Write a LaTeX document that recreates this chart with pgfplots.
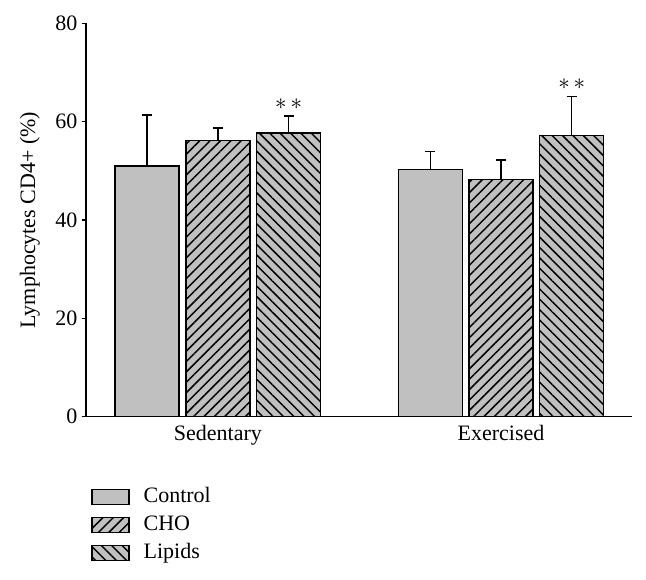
\documentclass[border=0pt]{standalone}
\usepackage{pgfplots}
\pgfplotsset{compat=1.18}
\usetikzlibrary{patterns.meta}
\usepackage{fontspec}
\setmainfont{Liberation Serif}
\definecolor{barfill}{HTML}{C0C0C0}
\newcommand{\chartfont}{\fontsize{16.5}{19.8}\selectfont}
\begin{document}
\begin{tikzpicture}
\useasboundingbox (0,0) rectangle (484.5pt,434.25pt);
\begin{axis}[
  at={(64.5pt,121.7pt)}, anchor=south west,
  scale only axis, width=409.5pt, height=295pt,
  xmin=-0.466, xmax=1.463, ymin=0, ymax=80,
  axis x line*=bottom, axis y line*=left,
  axis line style={line width=1pt},
  ybar, bar width=0.226,
  legend image code/.code={\draw[#1] (0pt,-5.5pt) rectangle (27.75pt,5.5pt); \path (38.25pt,0pt);},
  xtick={0,1}, xticklabels={Sedentary,Exercised},
  x tick style={draw=none},
  ytick={0,20,40,60,80},
  tick align=outside, major tick length=3pt,
  y tick style={line width=1pt, black},
  /pgf/number format/assume math mode=true,
  tick label style={font=\chartfont},
  ylabel={Lymphocytes CD4+ (\%)},
  ylabel style={font=\chartfont, at={(axis description cs:-0.103,0.5)}, anchor=center},
  legend style={at={(0,0)}, anchor=north west, xshift=0.75pt, yshift=-50pt,
    draw=none, fill=none, font=\chartfont, row sep=5pt,
    nodes={inner sep=0pt, text height=12pt, text depth=4pt}},
  legend cell align=left,
]
\addplot[draw=black, line width=1pt, fill=barfill, bar shift=-0.25,
  error bars/.cd, y dir=plus, y explicit,
  error bar style={line width=1pt, black},
  error mark options={black, mark size=3.75pt, line width=1pt, rotate=90}]
  coordinates {(0,51.0) +- (0,10.4) (1,50.3) +- (0,3.6)};
\addplot[draw=black, line width=1pt, fill=barfill, bar shift=0,
  postaction={pattern={Lines[angle=45,distance=5.5pt,line width=1.1pt]}},
  error bars/.cd, y dir=plus, y explicit,
  error bar style={line width=1pt, black},
  error mark options={black, mark size=3.75pt, line width=1pt, rotate=90}]
  coordinates {(0,56.2) +- (0,2.5) (1,48.3) +- (0,3.9)};
\addplot[draw=black, line width=1pt, fill=barfill, bar shift=0.25,
  postaction={pattern={Lines[angle=-45,distance=5.5pt,line width=1.1pt]}},
  error bars/.cd, y dir=plus, y explicit,
  error bar style={line width=1pt, black},
  error mark options={black, mark size=3.75pt, line width=1pt, rotate=90}]
  coordinates {(0,57.7) +- (0,3.5) (1,57.2) +- (0,8.0)};
\legend{Control,CHO,Lipids}
\node[font=\fontsize{16}{16}\selectfont] at (axis cs:0.25,63.6) {$\ast\,\ast$};
\node[font=\fontsize{16}{16}\selectfont] at (axis cs:1.25,67.6) {$\ast\,\ast$};
\end{axis}
\end{tikzpicture}
\end{document}
